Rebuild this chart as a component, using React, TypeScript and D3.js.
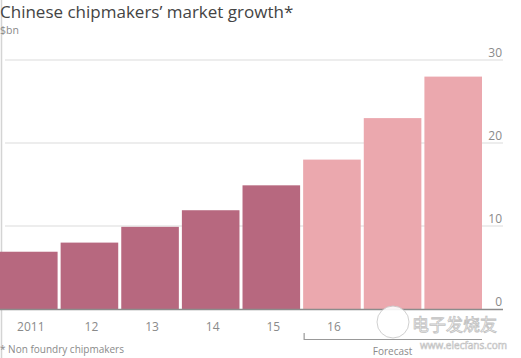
import React from "react";
import * as d3 from "d3";

const categories = ["2011", "2012", "2013", "2014", "2015", "2016", "2017", "2018"];
const values = [6.9, 8.0, 9.9, 11.9, 14.9, 18.0, 23.0, 28.0];
const isForecast = [false, false, false, false, false, true, true, true];
const xTickLabels = ["2011", "12", "13", "14", "15", "16", "", ""];
const yTicks = [0, 10, 20, 30];

const W = 521;
const H = 358;
const FONT = "'Open Sans', 'DejaVu Sans', sans-serif";

export default function App() {
  const x = d3.scaleBand<string>().domain(categories).range([0, 482]).paddingInner(0.05).paddingOuter(0);
  const y = d3.scaleLinear().domain([0, 30]).range([309, 60]);

  const forecastStart = x(categories[isForecast.indexOf(true)])!;
  const lastCat = categories[categories.length - 1];
  const forecastEnd = x(lastCat)! + x.bandwidth();

  return (
    <svg width={W} height={H} style={{ position: "absolute", left: 0, top: 0, background: "#fff" }} fontFamily={FONT}>
      <rect x={0} y={0} width={W} height={H} fill="#fff" />
      <line x1={1.5} x2={1.5} y1={0} y2={H} stroke="#d4d4d4" strokeWidth={1.5} />
      <text x={0} y={18} fontSize={17} fill="#444" fontWeight={500}>Chinese chipmakers’ market growth*</text>
      <text x={0} y={34} fontSize={10.5} fill="#8a8a8a">$bn</text>
      {yTicks.filter(t => t !== 0).map(t => (
        <line key={t} x1={5} x2={503} y1={y(t)} y2={y(t)} stroke="#dcdcdc" strokeWidth={1.2} />
      ))}
      {categories.map((c, i) => (
        <rect key={c} x={x(c)} y={y(values[i])} width={x.bandwidth()} height={y(0) - y(values[i])}
          fill={isForecast[i] ? "#eba8ae" : "#b7687f"} />
      ))}
      <line x1={0} x2={503} y1={y(0) + 0.5} y2={y(0) + 0.5} stroke="#8c8c8c" strokeWidth={1.3} />
      {yTicks.map(t => (
        <text key={t} x={502} y={y(t) - 3} fontSize={12} fill="#8a8a8a" textAnchor="end">{t}</text>
      ))}
      {categories.map((c, i) => (
        <text key={c} x={x(c)! + x.bandwidth() / 2 + 2} y={331} fontSize={12} fill="#8a8a8a" textAnchor="middle">{xTickLabels[i]}</text>
      ))}
      <path d={`M${forecastStart + 1},333 V339.5 H${forecastEnd}`} fill="none" stroke="#999" strokeWidth={1.2} />
      <text x={(forecastStart + forecastEnd) / 2} y={355} fontSize={10} fill="#8a8a8a" textAnchor="middle">Forecast</text>
      <text x={0} y={353} fontSize={10} fill="#8a8a8a">* Non foundry chipmakers</text>
      <g opacity={0.9}>
        <circle cx={393} cy={322} r={16} fill="#fff" stroke="#ccc" strokeWidth={1} />
        <text x={412} y={331} fontSize={17} fill="#fff" stroke="#bbb" strokeWidth={0.8} fontFamily="'Noto Sans CJK SC', sans-serif">电子发烧友</text>
        <text x={420} y={349} fontSize={10} fill="#fff" stroke="#bbb" strokeWidth={0.6}>www.elecfans.com</text>
      </g>
    </svg>
  );
}
